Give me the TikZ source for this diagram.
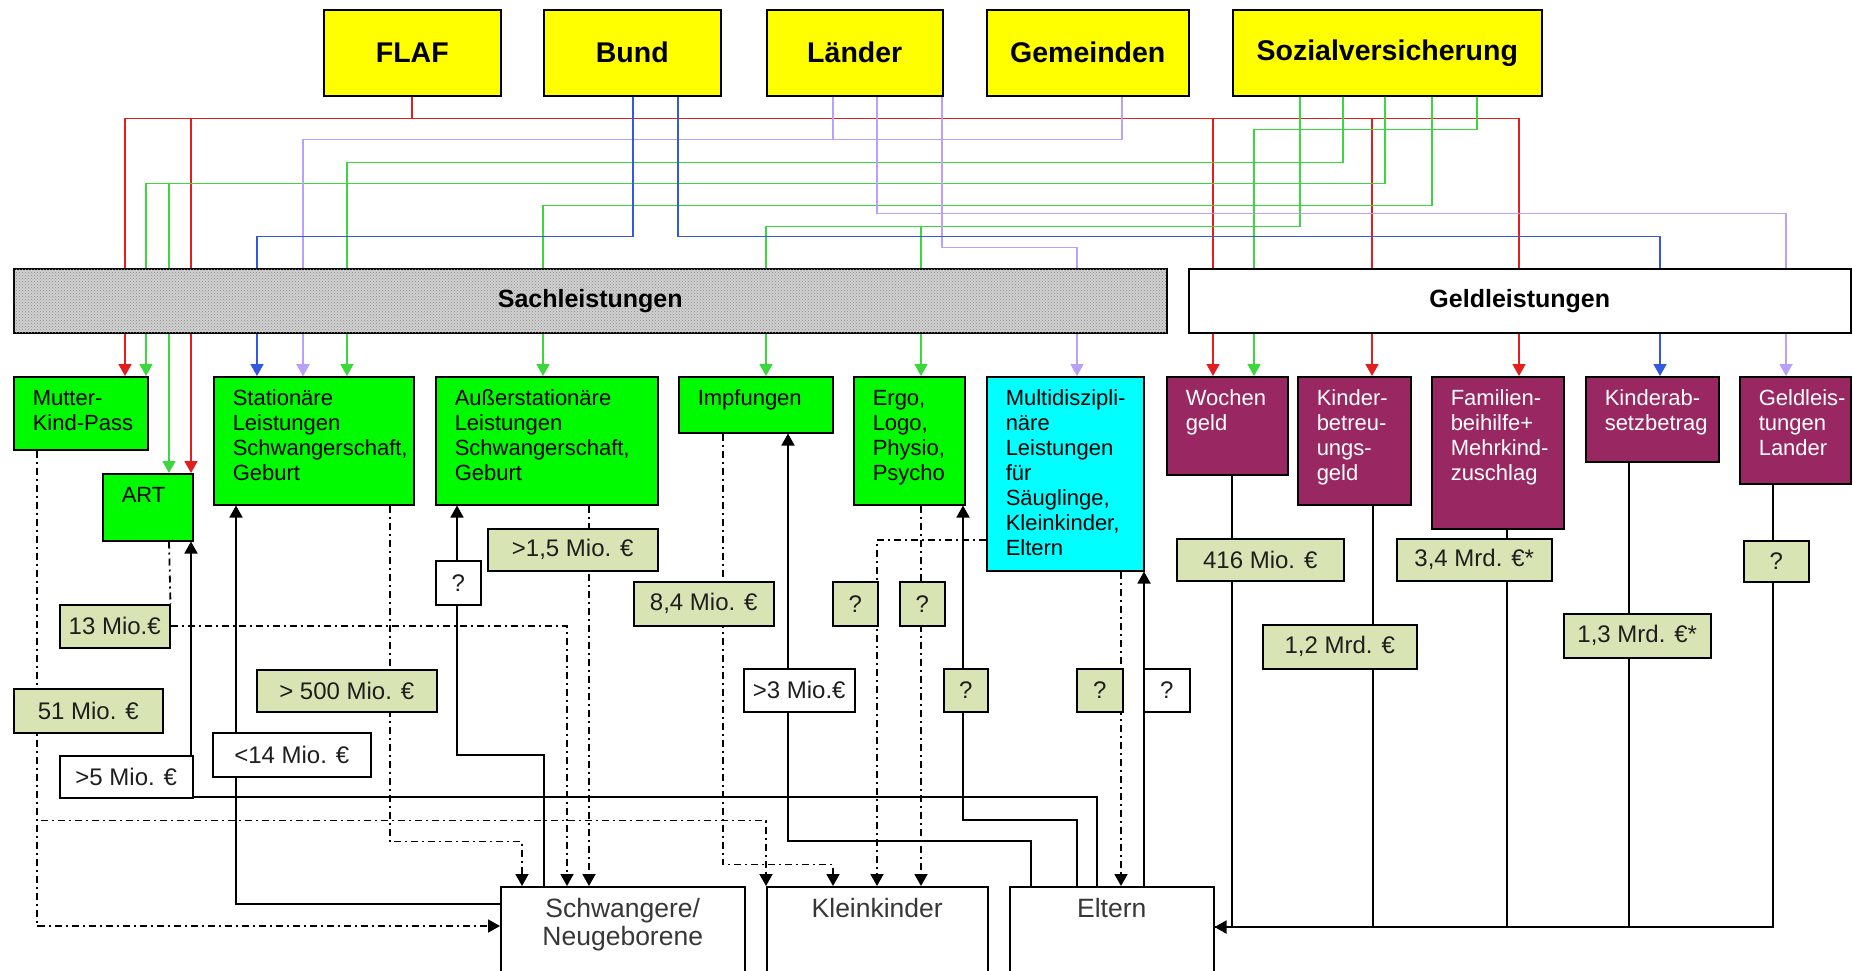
\documentclass[tikz,border=0pt]{standalone}
\usepackage{fontspec}
\setmainfont{Liberation Sans}
\usetikzlibrary{arrows.meta,patterns,backgrounds}
\definecolor{yel}{RGB}{255,255,0}
\definecolor{grn}{RGB}{0,250,0}
\definecolor{cyn}{RGB}{0,255,255}
\definecolor{mar}{RGB}{153,40,98}
\definecolor{olv}{RGB}{216,228,180}
\definecolor{sachfill}{RGB}{208,208,208}
\definecolor{cred}{RGB}{228,30,30}
\definecolor{cgrn}{RGB}{60,215,60}
\definecolor{cpur}{RGB}{185,160,250}
\definecolor{cblu}{RGB}{50,90,225}
\definecolor{txt}{RGB}{30,30,30}
\definecolor{poptxt}{RGB}{55,55,55}
\newcommand{\boxtxt}[3]{\parbox[c][#2pt][t]{#1pt}{\raggedright\leftskip=19pt\relax\hyphenpenalty=10000\exhyphenpenalty=10000\rule{0pt}{29pt}#3}}
\newcommand{\poptxt}[3]{\parbox[c][#2pt][t]{#1pt}{\centering\rule{0pt}{31pt}#3}}
\tikzset{
  fund/.style={draw, line width=1.5pt, fill=yel, anchor=north west, inner sep=0pt, minimum height=86pt, font=\fontsize{28.5}{30}\selectfont\bfseries},
  bar/.style={draw, line width=1.5pt, anchor=north west, inner sep=0pt, minimum height=64pt, font=\fontsize{25}{27}\selectfont\bfseries},
  sbox/.style={draw, line width=1.5pt, anchor=north west, inner sep=0pt, font=\fontsize{22}{25}\selectfont},
  gbox/.style={sbox, fill=grn},
  cbox/.style={sbox, fill=cyn},
  mbox/.style={sbox, fill=mar, text=white},
  valbox/.style={draw, line width=1.5pt, fill=olv, anchor=north west, inner sep=0pt, font=\fontsize{24}{26}\selectfont, text=txt},
  whbox/.style={valbox, fill=white},
  popbox/.style={draw, line width=1.5pt, fill=white, anchor=north west, inner sep=0pt, font=\fontsize{26.5}{28}\selectfont, text=poptxt},
  tipc/.style={-{Triangle[width=13pt,length=12pt]}},
  cl/.style={line width=1.8pt, tipc},
  sl/.style={line width=1.8pt, black, tipc},
  dl/.style={line width=1.8pt, black, dash pattern=on 7pt off 4pt on 2pt off 4pt, tipc},
  gl/.style={line width=1.8pt, black}
}
\begin{document}
\begin{tikzpicture}[x=1pt,y=-1pt]
\useasboundingbox (0,0) rectangle (1853,970);

% funders
\node[fund, minimum width=177pt] (flaf) at (323,9) {FLAF};
\node[fund, minimum width=177pt] (bund) at (543,9) {Bund};
\node[fund, minimum width=176pt] (laender) at (766,9) {Länder};
\node[fund, minimum width=202pt] (gem) at (986,9) {Gemeinden};
\node[fund, minimum width=309pt] (sv) at (1232,9) {Sozialversicherung};

% bars
\node[bar, minimum width=1153pt, fill=sachfill, postaction={pattern=crosshatch dots, pattern color=gray!90}] (sach) at (13,268) {Sachleistungen};
\node[bar, minimum width=662pt, fill=white] (geld) at (1188,268) {Geldleistungen};

% Sachleistungen boxes
\node[gbox] (mkp) at (13,376) {\boxtxt{134}{73}{Mutter-\\Kind-Pass}};
\node[gbox] (art) at (102,473) {\boxtxt{90}{67}{ART}};
\node[gbox] (stat) at (213,376) {\boxtxt{200}{128}{Stationäre\\Leistungen\\Schwangerschaft,\\Geburt}};
\node[gbox] (auss) at (435,376) {\boxtxt{222}{128}{Außerstationäre\\Leistungen\\Schwangerschaft,\\Geburt}};
\node[gbox] (impf) at (678,376) {\boxtxt{154}{56}{Impfungen}};
\node[gbox] (ergo) at (853,376) {\boxtxt{111}{128}{Ergo,\\Logo,\\Physio,\\Psycho}};
\node[cbox] (multi) at (986,376) {\boxtxt{157}{194}{Multidiszipli-\\näre\\Leistungen\\für\\Säuglinge,\\Kleinkinder,\\Eltern}};

% Geldleistungen boxes
\node[mbox] (woch) at (1166,376) {\boxtxt{121}{98}{Wochen\\geld}};
\node[mbox] (kbg) at (1297,376) {\boxtxt{113}{128}{Kinder-\\betreu-\\ungs-\\geld}};
\node[mbox] (fam) at (1431,376) {\boxtxt{132}{152}{Familien-\\beihilfe+\\Mehrkind-\\zuschlag}};
\node[mbox] (kab) at (1585,376) {\boxtxt{133}{85}{Kinderab-\\setzbetrag}};
\node[mbox] (gll) at (1739,376) {\boxtxt{111}{107}{Geldleis-\\tungen\\Lander}};

% value boxes
\node[valbox, minimum width=110pt, minimum height=43pt] (v13) at (59,604) {13 Mio.€};
\node[valbox, minimum width=149pt, minimum height=44pt] (v51) at (13,688) {51 Mio. €};
\node[whbox, minimum width=133pt, minimum height=42pt] (w5) at (59,755) {>5 Mio. €};
\node[valbox, minimum width=180pt, minimum height=42pt] (v500) at (256,669) {> 500 Mio. €};
\node[whbox, minimum width=158pt, minimum height=44pt] (w14) at (212,732) {<14 Mio. €};
\node[whbox, minimum width=45pt, minimum height=44pt] (wq1) at (435,560) {?};
\node[valbox, minimum width=170pt, minimum height=42pt] (v15) at (487,528) {>1,5 Mio. €};
\node[valbox, minimum width=140pt, minimum height=44pt] (v84) at (633,581) {8,4 Mio. €};
\node[valbox, minimum width=45pt, minimum height=44pt] (vq2) at (832,581) {?};
\node[valbox, minimum width=45pt, minimum height=44pt] (vq3) at (899,581) {?};
\node[whbox, minimum width=111pt, minimum height=43pt] (w3) at (743,668) {>3 Mio.€};
\node[valbox, minimum width=44pt, minimum height=43pt] (vq4) at (943,668) {?};
\node[valbox, minimum width=46pt, minimum height=43pt] (vq5) at (1076,668) {?};
\node[whbox, minimum width=46pt, minimum height=43pt] (wq6) at (1143,668) {?};
\node[valbox, minimum width=167pt, minimum height=42pt] (v416) at (1176,538) {416 Mio. €};
\node[valbox, minimum width=154pt, minimum height=44pt] (v12) at (1262,624) {1,2 Mrd. €};
\node[valbox, minimum width=155pt, minimum height=42pt] (v34) at (1396,538) {3,4 Mrd. €*};
\node[valbox, minimum width=147pt, minimum height=44pt] (v13b) at (1563,613) {1,3 Mrd. €*};
\node[valbox, minimum width=65pt, minimum height=41pt] (vq7) at (1743,540) {?};

% target groups
\node[popbox] (schw) at (500,886) {\poptxt{244}{86}{Schwangere/\\Neugeborene}};
\node[popbox] (klein) at (766,886) {\poptxt{221}{86}{Kleinkinder}};
\node[popbox] (eltern) at (1009,886) {\poptxt{204}{86}{Eltern}};

\begin{scope}[on background layer]
\fill[white] (0,0) rectangle (1853,970);
% red (FLAF)
\draw[cl,cred] (flaf.south) -- ++(0,22) -| ([xshift=112]mkp.north west);
\draw[cl,cred] (flaf.south) -- ++(0,22) -| ([xshift=89]art.north west);
\draw[cl,cred] (flaf.south) -- ++(0,22) -| ([xshift=47]woch.north west);
\draw[cl,cred] (flaf.south) -- ++(0,22) -| ([xshift=75]kbg.north west);
\draw[cl,cred] (flaf.south) -- ++(0,22) -| ([xshift=88]fam.north west);
% green (Sozialversicherung)
\draw[cl,cgrn] ([xshift=111]sv.south west) -- ++(0,66) -| ([xshift=134]stat.north west);
\draw[cl,cgrn] ([xshift=153]sv.south west) -- ++(0,87) -| ([xshift=133]mkp.north west);
\draw[cl,cgrn] ([xshift=153]sv.south west) -- ++(0,87) -| ([xshift=67]art.north west);
\draw[cl,cgrn] ([xshift=200]sv.south west) -- ++(0,109) -| ([xshift=108]auss.north west);
\draw[cl,cgrn] ([xshift=68]sv.south west) -- ++(0,130) -| ([xshift=88]impf.north west);
\draw[cl,cgrn] ([xshift=68]sv.south west) -- ++(0,130) -| ([xshift=68]ergo.north west);
\draw[cl,cgrn] ([xshift=245]sv.south west) -- ++(0,33) -| ([xshift=88]woch.north west);
% purple (Laender, Gemeinden)
\draw[cl,cpur] ([xshift=67]laender.south west) -- ++(0,43) -| ([xshift=90]stat.north west);
\draw[cl,cpur] ([xshift=136]gem.south west) -- ++(0,43) -| ([xshift=90]stat.north west);
\draw[cl,cpur] ([xshift=111]laender.south west) -- ++(0,117) -| ([xshift=47]gll.north west);
\draw[cl,cpur] ([xshift=176]laender.south west) -- ++(0,151) -| ([xshift=91]multi.north west);
% blue (Bund)
\draw[cl,cblu] ([xshift=90]bund.south west) -- ++(0,140) -| ([xshift=44]stat.north west);
\draw[cl,cblu] ([xshift=135]bund.south west) -- ++(0,140) -| ([xshift=75]kab.north west);

% solid black (payments up)
\draw[sl] ([xshift=88]eltern.north west) -- ++(0,-89) -| ([xshift=89]art.south west);
\draw[sl] ([yshift=-18]schw.north west) -| ([xshift=23]stat.south west);
\draw[sl] ([xshift=44]schw.north west) -- ++(0,-131) -| ([xshift=22]auss.south west);
\draw[sl] ([xshift=22]eltern.north west) -- ++(0,-45) -| ([xshift=110]impf.south west);
\draw[sl] ([xshift=68]eltern.north west) -- ++(0,-66) -| ([xshift=110]ergo.south west);
\draw[sl] ([xshift=135]eltern.north west) coordinate (em) -- (em |- multi.south);

% dash-dot (services down)
\draw[dl] ([xshift=24]mkp.south west) |- ([yshift=-40]schw.north west);
\draw[dl] ([xshift=24]mkp.south west) -- ++(0,370) -| (klein.north west);
\draw[dl,-] ([xshift=67]art.south west) -- (v13.north east);
\draw[dl] (v13.east) -| ([xshift=67]schw.north west);
\draw[dl] ([xshift=177]stat.south west) -- ++(0,336) -| ([xshift=22]schw.north west);
\draw[dl] ([xshift=154]auss.south west) -- ([xshift=89]schw.north west);
\draw[dl] ([xshift=45]impf.south west) -- ++(0,431) -| ([xshift=67]klein.north west);
\draw[dl] ([xshift=68]ergo.south west) -- ([xshift=155]klein.north west);
\draw[dl] ([yshift=-164]multi.north west) -| ([xshift=111]klein.north west);
\draw[dl] ([xshift=135]multi.south west) -- ([xshift=112]eltern.north west);

% Geldleistungen to Eltern
\draw[gl] ([xshift=66]woch.south west) |- ([yshift=-41]eltern.north east);
\draw[gl] ([xshift=76]kbg.south west) |- ([yshift=-41]eltern.north east);
\draw[gl] ([xshift=76]fam.south west) |- ([yshift=-41]eltern.north east);
\draw[gl] ([xshift=44]kab.south west) |- ([yshift=-41]eltern.north east);
\draw[gl,tipc] ([xshift=34]gll.south west) |- ([yshift=-41]eltern.north east);
\end{scope}
\end{tikzpicture}
\end{document}
